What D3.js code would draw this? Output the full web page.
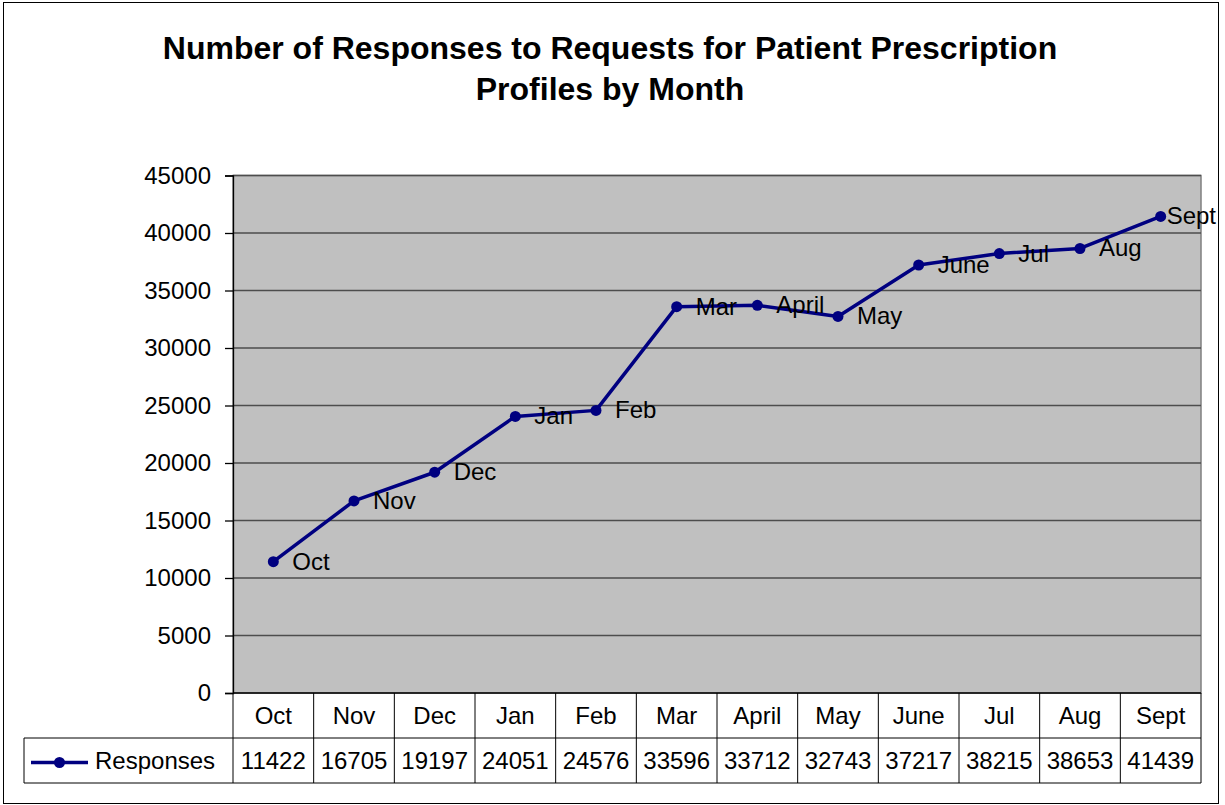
<!DOCTYPE html>
<html>
<head>
<meta charset="utf-8">
<script src="https://cdn.jsdelivr.net/npm/d3@7"></script>
<style>
  body { margin: 0; background: #fff; }
  text { font-family: Arial, "Liberation Sans", sans-serif; }
</style>
</head>
<body>
<div class="chart"></div>
<script>
var months = ["Oct", "Nov", "Dec", "Jan", "Feb", "Mar", "April", "May", "June", "Jul", "Aug", "Sept"];
var responses = [11422, 16705, 19197, 24051, 24576, 33596, 33712, 32743, 37217, 38215, 38653, 41439];
var yTicks = [0, 5000, 10000, 15000, 20000, 25000, 30000, 35000, 40000, 45000];
var seriesName = "Responses";

var svgWidth = 1225;
var svgHeight = 805;

var plot = { left: 233, top: 175.5, right: 1201, bottom: 693 };
var rowH = 45;
var fontSize = 24;

var svg = d3.select(".chart")
  .append("svg")
  .attr("width", svgWidth)
  .attr("height", svgHeight);

// outer chart border
svg.append("rect")
  .attr("x", 3.5).attr("y", 2.5)
  .attr("width", 1215).attr("height", 801)
  .attr("fill", "#fff")
  .attr("stroke", "#000")
  .attr("stroke-width", 1);

// title
var title = svg.append("text")
  .attr("text-anchor", "middle")
  .attr("font-size", 32)
  .attr("font-weight", "bold");
title.append("tspan").attr("x", 610).attr("y", 59).text("Number of Responses to Requests for Patient Prescription");
title.append("tspan").attr("x", 610).attr("y", 100).text("Profiles by Month");

var x = d3.scaleBand()
  .domain(months)
  .range([plot.left, plot.right]);

var y = d3.scaleLinear()
  .domain([0, 45000])
  .range([plot.bottom, plot.top]);

// plot area
svg.append("rect")
  .attr("x", plot.left).attr("y", plot.top)
  .attr("width", plot.right - plot.left)
  .attr("height", plot.bottom - plot.top)
  .attr("fill", "#c0c0c0")
  .attr("stroke", "#808080")
  .attr("stroke-width", 1.5);

// gridlines
svg.append("g")
  .selectAll("line")
  .data(yTicks.slice(1))
  .enter()
  .append("line")
  .attr("x1", plot.left).attr("x2", plot.right)
  .attr("y1", d => y(d)).attr("y2", d => y(d))
  .attr("stroke", "#4d4d4d")
  .attr("stroke-width", 1.3);

// y axis
var leftAxis = d3.axisLeft(y)
  .tickValues(yTicks)
  .tickSize(8)
  .tickPadding(14)
  .tickFormat(d3.format("d"));

var yAxis = svg.append("g")
  .attr("transform", `translate(${plot.left}, 0)`)
  .call(leftAxis);
yAxis.select(".domain").attr("stroke", "#000").attr("stroke-width", 1.3);
yAxis.selectAll(".tick line").attr("stroke", "#000").attr("stroke-width", 1.3);
yAxis.selectAll("text")
  .attr("font-size", fontSize)
  .attr("font-family", "Arial, 'Liberation Sans', sans-serif")
  .attr("fill", "#000");

// data table
var table = svg.append("g");
var tableLeft = 24;
var row1 = plot.bottom;
var row2 = plot.bottom + rowH;
var row3 = plot.bottom + 2 * rowH;

table.append("line")
  .attr("x1", plot.left).attr("x2", plot.right)
  .attr("y1", row1).attr("y2", row1)
  .attr("stroke", "#000").attr("stroke-width", 1.3);
table.append("line")
  .attr("x1", tableLeft).attr("x2", plot.right)
  .attr("y1", row2).attr("y2", row2)
  .attr("stroke", "#000").attr("stroke-width", 1);
table.append("line")
  .attr("x1", tableLeft).attr("x2", plot.right)
  .attr("y1", row3).attr("y2", row3)
  .attr("stroke", "#000").attr("stroke-width", 1);
table.append("line")
  .attr("x1", tableLeft).attr("x2", tableLeft)
  .attr("y1", row2).attr("y2", row3)
  .attr("stroke", "#000").attr("stroke-width", 1);

var edges = months.map(m => x(m)).concat([plot.right]);
table.selectAll(".vline")
  .data(edges)
  .enter()
  .append("line")
  .attr("class", "vline")
  .attr("x1", d => d).attr("x2", d => d)
  .attr("y1", row1).attr("y2", row3)
  .attr("stroke", "#000").attr("stroke-width", 1);

table.selectAll(".cat")
  .data(months)
  .enter()
  .append("text")
  .attr("class", "cat")
  .attr("x", d => x(d) + x.bandwidth() / 2)
  .attr("y", row1 + rowH / 2 + 8.5)
  .attr("text-anchor", "middle")
  .attr("font-size", fontSize)
  .text(d => d);

table.selectAll(".val")
  .data(responses)
  .enter()
  .append("text")
  .attr("class", "val")
  .attr("x", (d, i) => x(months[i]) + x.bandwidth() / 2)
  .attr("y", row2 + rowH / 2 + 8.5)
  .attr("text-anchor", "middle")
  .attr("font-size", fontSize)
  .text(d => d);

// legend key inside table
var keyY = row2 + rowH / 2 + 2;
table.append("line")
  .attr("x1", 31).attr("x2", 88)
  .attr("y1", keyY).attr("y2", keyY)
  .attr("stroke", "#000080").attr("stroke-width", 3.5);
table.append("circle")
  .attr("cx", 59.5).attr("cy", keyY).attr("r", 5.5)
  .attr("fill", "#000080");
table.append("text")
  .attr("x", 95)
  .attr("y", row2 + rowH / 2 + 8.5)
  .attr("font-size", fontSize)
  .text(seriesName);

// series line
var data = months.map((m, i) => ({ month: m, value: responses[i] }));
var cx = d => x(d.month) + x.bandwidth() / 2;

svg.append("path")
  .datum(data)
  .attr("fill", "none")
  .attr("stroke", "#000080")
  .attr("stroke-width", 3.5)
  .attr("stroke-linejoin", "round")
  .attr("d", d3.line().x(cx).y(d => y(d.value)));

svg.selectAll(".dot")
  .data(data)
  .enter()
  .append("circle")
  .attr("class", "dot")
  .attr("cx", cx)
  .attr("cy", d => y(d.value))
  .attr("r", 5.5)
  .attr("fill", "#000080");

// point labels, right of each point
var labels = svg.selectAll(".lbl")
  .data(data)
  .enter()
  .append("text")
  .attr("class", "lbl")
  .attr("y", d => y(d.value) + 8)
  .attr("font-size", fontSize)
  .text(d => d.month);

labels.attr("x", function(d) {
  var w = this.getComputedTextLength();
  return Math.min(cx(d) + 19, 1216 - w);
});
</script>
</body>
</html>
